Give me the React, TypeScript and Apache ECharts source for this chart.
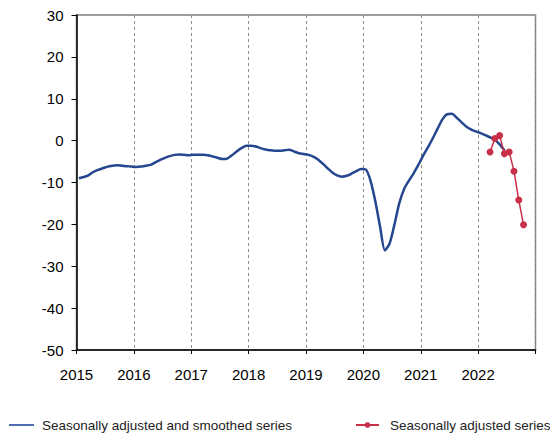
import React, { useEffect, useRef } from "react";
import * as echarts from "echarts";

// Monthly values (mid-month), Jan 2015 .. Jun 2022
const smoothedValues = [
  -9.0, -8.7, -8.3, -7.5, -7.0, -6.6, -6.2, -6.0, -5.9, -6.0, -6.1, -6.2,
  -6.3, -6.2, -6.0, -5.8, -5.2, -4.6, -4.1, -3.7, -3.4, -3.3, -3.4, -3.5,
  -3.4, -3.4, -3.4, -3.5, -3.8, -4.1, -4.4, -4.3, -3.5, -2.6, -1.8, -1.2,
  -1.2, -1.4, -1.8, -2.1, -2.3, -2.4, -2.4, -2.3, -2.2, -2.6, -3.0, -3.2,
  -3.4, -3.8, -4.5, -5.5, -6.6, -7.6, -8.3, -8.6, -8.4, -7.9, -7.3, -6.8,
  -6.9, -9.6, -14.5, -20.6, -26.2, -24.5, -20.0, -15.0, -11.6, -9.6, -7.8, -5.8,
  -3.6, -1.6, 0.5, 2.8, 5.0, 6.3, 6.4, 5.5, 4.4, 3.4, 2.7, 2.2,
  1.8, 1.3, 0.8, 0.2, -0.9, -2.3,
];
const smoothedStartYear = 2015;
const smoothedStartMonth = 0; // January

// Monthly values, Mar 2022 .. Oct 2022
const adjustedValues = [-2.7, 0.5, 1.2, -3.1, -2.7, -7.3, -14.2, -20.1];
const adjustedStartYear = 2022;
const adjustedStartMonth = 2; // March

const xMin = 2015;
const xMax = 2023;
const yMin = -50;
const yMax = 30;
const yStep = 10;

const smoothedName = "Seasonally adjusted and smoothed series";
const adjustedName = "Seasonally adjusted series";

const toPairs = (vals: number[], year: number, month: number) =>
  vals.map((v, i) => [year + (month + i + 0.5) / 12, v]);

export default function App() {
  const ref = useRef<HTMLDivElement>(null);
  useEffect(() => {
    if (!ref.current) return;
    const chart = echarts.init(ref.current, null, { renderer: "svg" });
    const font = "'Liberation Sans', Arial, sans-serif";
    chart.setOption({
      animation: false,
      textStyle: { fontFamily: font },
      grid: {
        left: 76.5,
        right: 14.5,
        top: 15,
        bottom: 85,
        show: true,
        borderColor: "#808080",
        borderWidth: 1.5,
        backgroundColor: "transparent",
      },
      legend: [
        {
          data: [{ name: smoothedName, icon: "rect" }],
          left: 4,
          top: 413,
          itemWidth: 25,
          itemHeight: 2,
          itemStyle: { color: "#4f6dae" },
          textStyle: { fontSize: 13.5, color: "#222", fontFamily: font, padding: [0, 0, 0, 3] },
        },
        {
          data: [adjustedName],
          left: 350,
          top: 413,
          itemWidth: 23,
          itemHeight: 7,
          textStyle: { fontSize: 13.5, color: "#222", fontFamily: font, padding: [0, 0, 0, 6] },
        },
      ],
      xAxis: {
        type: "value",
        min: xMin,
        max: xMax,
        interval: 1,
        axisLine: { show: true, onZero: false, lineStyle: { color: "#000", width: 1.5 } },
        axisTick: { show: true, inside: false, length: 4, lineStyle: { color: "#000" } },
        axisLabel: {
          fontSize: 15,
          color: "#000",
          margin: 17,
          formatter: (v: number) => (v >= xMax ? "" : String(v)),
        },
        splitLine: {
          show: true,
          lineStyle: { color: "#8c8c8c", type: [3, 3], width: 1 },
        },
      },
      yAxis: {
        type: "value",
        min: yMin,
        max: yMax,
        interval: yStep,
        axisLine: { show: true, onZero: false, lineStyle: { color: "#000", width: 1.5 } },
        axisTick: { show: true, inside: false, length: 5, lineStyle: { color: "#000" } },
        axisLabel: { fontSize: 15, color: "#000", margin: 13 },
        splitLine: { show: false },
      },
      series: [
        {
          name: smoothedName,
          type: "line",
          data: toPairs(smoothedValues, smoothedStartYear, smoothedStartMonth),
          symbol: "none",
          smooth: 0.25,
          lineStyle: { color: "#24478f", width: 2.5 },
          itemStyle: { color: "#24478f" },
          z: 2,
        },
        {
          name: adjustedName,
          type: "line",
          data: toPairs(adjustedValues, adjustedStartYear, adjustedStartMonth),
          symbol: "circle",
          symbolSize: 7,
          lineStyle: { color: "#c8304a", width: 1.5 },
          itemStyle: { color: "#c8304a" },
          z: 3,
        },
      ],
    });
    return () => chart.dispose();
  }, []);
  return (
    <div
      ref={ref}
      style={{ position: "absolute", left: 0, top: 0, width: 550, height: 435 }}
    />
  );
}
